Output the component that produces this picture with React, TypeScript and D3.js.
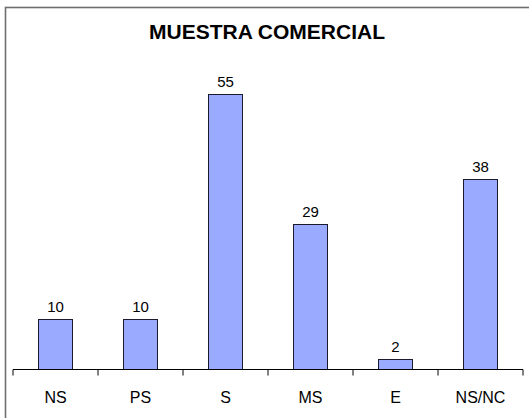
import React from "react";
import * as d3 from "d3";

const categories = ["NS", "PS", "S", "MS", "E", "NS/NC"];
const values = [10, 10, 55, 29, 2, 38];
const title = "MUESTRA COMERCIAL";

const W = 529;
const H = 418;
const axisLeft = 13;
const axisRight = 523;
const baseY = 369.5;
const plotTop = 69.5;

export default function App() {
  const x = d3.scaleBand<string>().domain(categories).range([axisLeft, axisRight]).paddingInner(0).paddingOuter(0);
  const y = d3.scaleLinear().domain([0, 60]).range([baseY, plotTop]);
  const bw = x.bandwidth() * 0.4;
  const font = "'Liberation Sans', Arial, Helvetica, sans-serif";
  const tickXs = [...categories.map((c) => x(c) as number), axisRight];

  return (
    <svg
      width={W}
      height={H}
      style={{ position: "absolute", left: 0, top: 0, background: "#fff" }}
      fontFamily={font}
    >
      <rect x={5.5} y={7.5} width={W + 10} height={H + 10} fill="#fff" stroke="#6e6e6e" strokeWidth={1.6} />
      <text x={267} y={39} textAnchor="middle" fontSize={21} fontWeight="bold" fill="#000">
        {title}
      </text>
      {categories.map((c, i) => {
        const cx = (x(c) as number) + x.bandwidth() / 2;
        const top = y(values[i]);
        return (
          <g key={c}>
            <rect
              x={cx - bw / 2}
              y={top}
              width={bw}
              height={baseY - top}
              fill="#99aaff"
              stroke="#1a1a2e"
              strokeWidth={1}
            />
            <text x={cx} y={top - 8} textAnchor="middle" fontSize={15} fill="#000">
              {values[i]}
            </text>
            <text x={cx} y={403} textAnchor="middle" fontSize={16} fill="#000">
              {c}
            </text>
          </g>
        );
      })}
      <line x1={axisLeft} x2={axisRight} y1={baseY} y2={baseY} stroke="#000" strokeWidth={1} />
      {tickXs.map((t, i) => (
        <line key={i} x1={t} x2={t} y1={baseY} y2={baseY + 6} stroke="#000" strokeWidth={1} />
      ))}
    </svg>
  );
}
